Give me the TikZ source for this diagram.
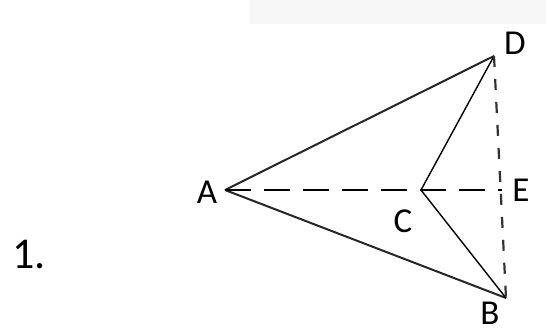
\documentclass[tikz,border=0pt]{standalone}
\usepackage{fontspec}
\setmainfont{Carlito}
\begin{document}
\begin{tikzpicture}[x=1pt,y=-1pt,
  lbl/.style={inner sep=0pt,font=\fontsize{35}{35}\selectfont},
  solidline/.style={line width=2pt,black!85},
  thinline/.style={line width=1.4pt,black},
  longdash/.style={line width=2.2pt,dash pattern=on 26pt off 13pt},
  shortdash/.style={line width=2.2pt,black!80,dash pattern=on 11pt off 12pt}]
\useasboundingbox (0,0) rectangle (546,332);
\fill[gray!6] (250,0) rectangle (546,24);
\coordinate (A) at (225,190);
\coordinate (C) at (421,190);
\coordinate (E) at (502,190);
\coordinate (D) at (494,56);
\coordinate (B) at (506,298);
\draw[solidline] (A) -- (D);
\draw[solidline] (A) -- (B);
\draw[thinline] (C) -- (D);
\draw[thinline] (C) -- (B);
\draw[longdash] (A) -- (E);
\draw[shortdash] (D) -- (B);
\node[lbl] (la) at (207,192) {A};
\node[lbl] (lc) at (403,221) {C};
\node[lbl] (le) at (521,190) {E};
\node[lbl] (ld) at (515,43) {D};
\node[lbl] (lb) at (490,313) {B};
\node[inner sep=0pt,font=\fontsize{44}{44}\selectfont,anchor=base west] (num) at (12,268) {1.};
\end{tikzpicture}
\end{document}
